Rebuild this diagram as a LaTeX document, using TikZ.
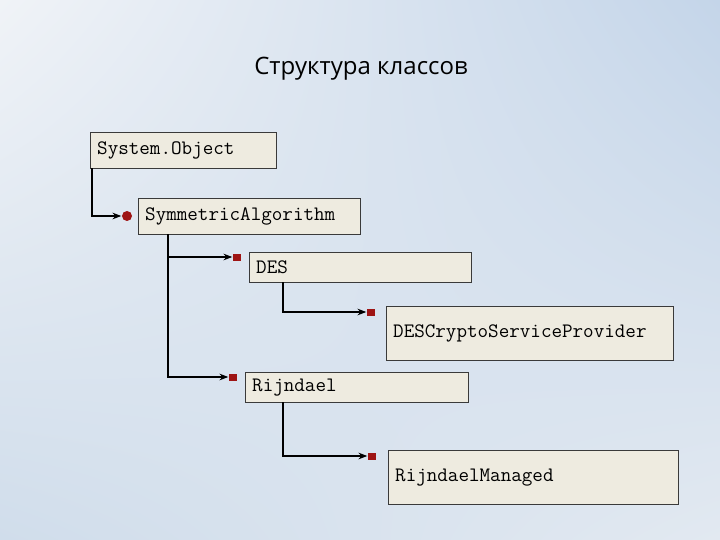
\documentclass[tikz,border=0pt]{standalone}
\usepackage{fontspec}
\setmainfont{Open Sans}
\usepackage{xcolor}
\usetikzlibrary{arrows.meta, positioning, shadings}

\definecolor{boxfill}{HTML}{EEEBE0}
\definecolor{boxline}{HTML}{3A3A3A}
\definecolor{markred}{HTML}{9E1414}
\definecolor{bgul}{HTML}{F0F3F7}
\definecolor{bgur}{HTML}{C4D5E9}
\definecolor{bgll}{HTML}{D0DDEB}
\definecolor{bglr}{HTML}{E2E9F1}

\begin{document}
\begin{tikzpicture}[x=1pt, y=-1pt, >=Stealth,
    cls/.style={draw=boxline, fill=boxfill, anchor=north west, inner xsep=7pt,
      text width=#1-14pt, align=left, font=\ttfamily\fontsize{20.5}{22}\selectfont},
    sqmark/.style={fill=markred, minimum width=8pt, minimum height=7pt, inner sep=0pt},
    dotmark/.style={circle, fill=markred, minimum size=10pt, inner sep=0pt},
    link/.style={->, line width=1.3pt, shorten >=0.5pt}]
  % background
  \shade[upper left=bgul, upper right=bgur, lower left=bgll, lower right=bglr]
    (0,0) rectangle (720,540);
  \useasboundingbox (0,0) rectangle (720,540);
  \node[font=\fontsize{24}{28}\selectfont, anchor=base] (title) at (361,75) {Структура классов};

  % classes
  \node[cls=186pt, minimum height=36pt] (object) at (90,132) {System.Object};
  \node[cls=222pt, minimum height=36pt] (symalg) at (138,198) {SymmetricAlgorithm};
  \node[cls=222pt, minimum height=30pt] (des) at (249,252) {DES};
  \node[cls=287pt, minimum height=54pt] (desprov) at (386,306) {DESCryptoServiceProvider};
  \node[cls=223pt, minimum height=30pt] (rijn) at (245,372) {Rijndael};
  \node[cls=290pt, minimum height=54pt] (rijnman) at (388,450) {RijndaelManaged};

  % markers
  \node[dotmark] (msymalg) at (127,216) {};
  \node[sqmark] (mdes) at (237,257) {};
  \node[sqmark] (mdesprov) at (371,312) {};
  \node[sqmark] (mrijn) at (233,377) {};
  \node[sqmark] (mrijnman) at (372,456) {};

  % inheritance
  \draw[link] ([xshift=2pt]object.south west) |- (msymalg);
  \draw[link] ([xshift=30pt]symalg.south west) |- (mdes);
  \draw[link] ([xshift=30pt]symalg.south west) |- (mrijn);
  \draw[link] ([xshift=34pt]des.south west) |- (mdesprov);
  \draw[link] ([xshift=38pt]rijn.south west) |- (mrijnman);
\end{tikzpicture}
\end{document}
